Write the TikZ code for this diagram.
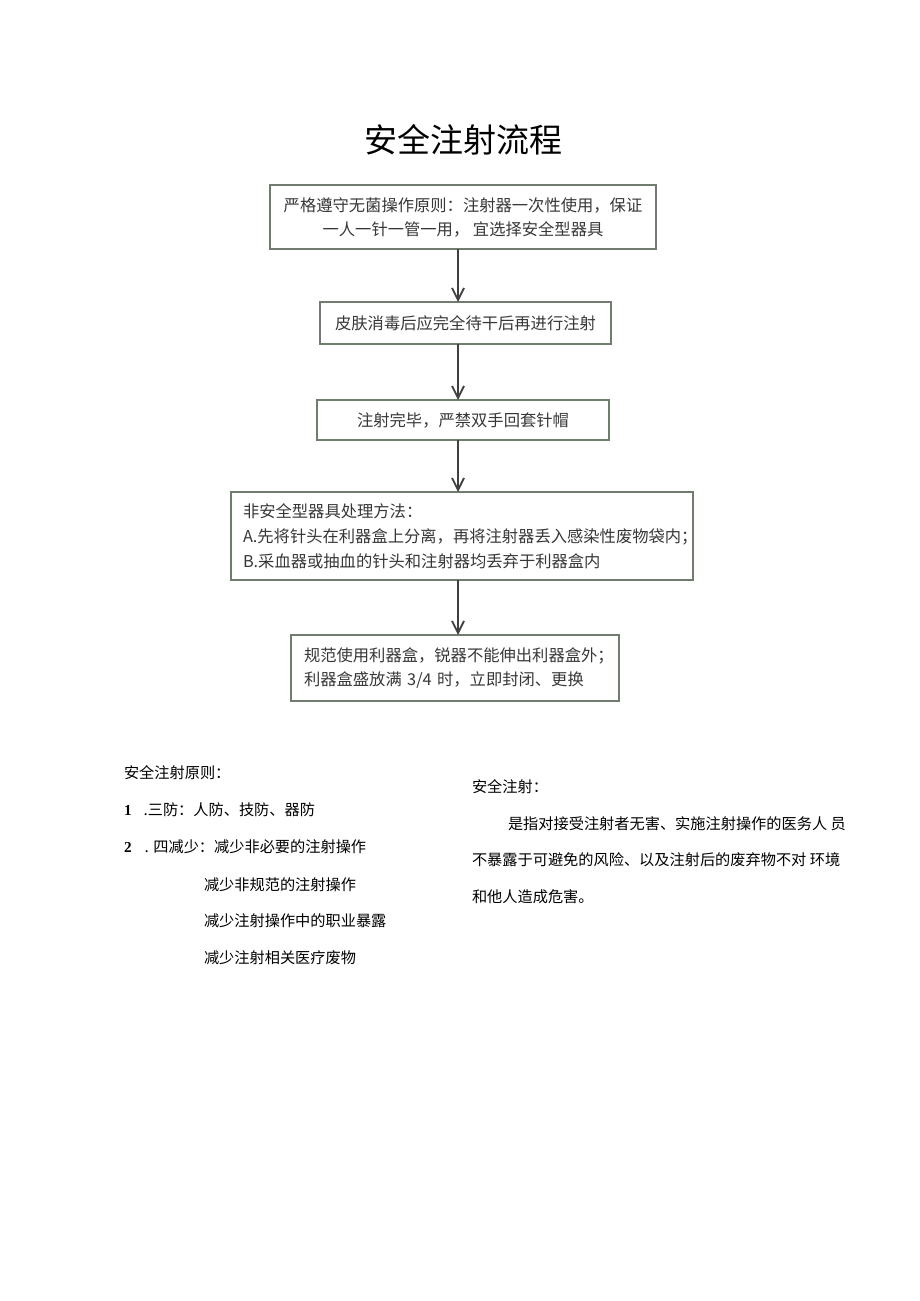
\documentclass[tikz,border=0pt]{standalone}
\usepackage{fontspec}
\setmainfont{Liberation Serif}
\newfontfamily\cjk{Noto Sans CJK SC}
\usetikzlibrary{arrows.meta,positioning}
\definecolor{boxline}{RGB}{112,124,110}
\definecolor{boxtext}{RGB}{55,55,55}

\begin{document}
\begin{tikzpicture}[x=0.5pt,y=-0.5pt,
  every node/.style={inner sep=0pt,outer sep=0pt},
  flowbox/.style={draw=boxline,line width=0.9pt,text=boxtext,
    font=\cjk\fontsize{8.15}{12}\selectfont},
  flow/.style={draw=black!75,line width=0.9pt,-{Straight Barb[length=6pt,width=6pt]}},
  note/.style={anchor=west,font=\cjk\fontsize{7.6}{9}\selectfont}]
\useasboundingbox (0,0) rectangle (920,1301);
% title
\node (title) at (463,140) {\cjk\fontsize{16.5}{18}\selectfont 安全注射流程};
% flow boxes
\node[flowbox,minimum width=193pt,minimum height=32pt,align=center] (b1) at (463,217)
  {严格遵守无菌操作原则：注射器一次性使用，保证\\一人一针一管一用，\ 宜选择安全型器具};
\node[flowbox,minimum width=145.5pt,minimum height=21pt] (b2) at (465.5,323)
  {皮肤消毒后应完全待干后再进行注射};
\node[flowbox,minimum width=146pt,minimum height=20pt] (b3) at (463,420)
  {注射完毕，严禁双手回套针帽};
\node[flowbox,minimum height=44pt,inner xsep=6pt,text width=219pt,align=left,
  font=\cjk\fontsize{8.15}{12.5}\selectfont] (b4) at (462,536)
  {非安全型器具处理方法：\\A.先将针头在利器盒上分离，再将注射器丢入感染性废物袋内；\\B.采血器或抽血的针头和注射器均丢弃于利器盒内};
\node[flowbox,minimum height=33pt,inner xsep=6.5pt,text width=151pt,align=left] (b5) at (455,668)
  {规范使用利器盒，锐器不能伸出利器盒外；\\利器盒盛放满 3/4 时，立即封闭、更换};
% arrows
\coordinate (ax) at (458,0);
\draw[flow] (b1.south -| ax) -- (b2.north -| ax);
\draw[flow] (b2.south -| ax) -- (b3.north -| ax);
\draw[flow] (b3.south -| ax) -- (b4.north -| ax);
\draw[flow] (b4.south -| ax) -- (b5.north -| ax);
% principles
\node[note] (p0) at (124,773) {安全注射原则：};
\node[note] (p1) at (124,810) {{\rmfamily\bfseries 1}\hspace{6pt}.三防：人防、技防、器防};
\node[note] (p2) at (124,847) {{\rmfamily\bfseries 2}\hspace{6.5pt}. 四减少：减少非必要的注射操作};
\node[note] (p3) at (204,885) {减少非规范的注射操作};
\node[note] (p4) at (204,921) {减少注射操作中的职业暴露};
\node[note] (p5) at (204,958) {减少注射相关医疗废物};
% definition
\node[note] (d0) at (472,787) {安全注射：};
\node[note] (d1) at (508,824) {是指对接受注射者无害、实施注射操作的医务人\ 员};
\node[note] (d2) at (472,860) {不暴露于可避免的风险、以及注射后的废弃物不对\ 环境};
\node[note] (d3) at (472,897) {和他人造成危害。};
\end{tikzpicture}
\end{document}
